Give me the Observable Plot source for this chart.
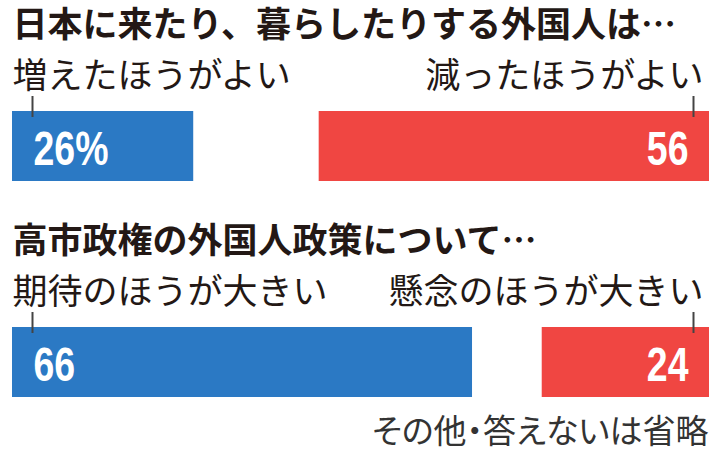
<!DOCTYPE html>
<html><head><meta charset="utf-8">
<script src="https://cdn.jsdelivr.net/npm/d3@7"></script>
<script src="https://cdn.jsdelivr.net/npm/@observablehq/plot@0.6"></script>
<style>
html,body{margin:0;padding:0;background:#fff}
</style>
</head><body><div id="chart"></div>
<script>
const questions = ["日本に来たり、暮らしたりする外国人は…", "高市政権の外国人政策について…"];
const leftLabels = ["増えたほうがよい", "期待のほうが大きい"];
const rightLabels = ["減ったほうがよい", "懸念のほうが大きい"];
const leftValues = [26, 66];
const rightValues = [56, 24];
const leftValueText = ["26%", "66"];
const rightValueText = ["56", "24"];
const note = ["その他・答えないは省略"];

const rows = questions.map((q, i) => ({
  q, left: leftValues[i], right: rightValues[i],
  leftLabel: leftLabels[i], rightLabel: rightLabels[i],
  leftText: leftValueText[i], rightText: rightValueText[i]
}));

const blue = "#2b79c4", red = "#f04642", ink = "#231815";
const jp = "'Noto Sans CJK JP', sans-serif";
const num = "'Liberation Sans', 'DejaVu Sans', sans-serif";

const chart = Plot.plot({
  width: 727, height: 451,
  marginLeft: 12, marginRight: 18, marginTop: 0, marginBottom: 0,
  style: {background: "#fff", fontFamily: jp},
  x: {domain: [0, 100], axis: null},
  y: {domain: questions, range: [111, 397], paddingInner: 0.676, paddingOuter: 0, axis: null},
  marks: [
    Plot.barX(rows, {x1: () => 0, x2: "left", y: "q", fill: blue}),
    Plot.barX(rows, {x1: d => 100 - d.right, x2: () => 100, y: "q", fill: red}),
    Plot.tickX(rows, {x: () => 0, y: "q", dx: 20, insetTop: -15, insetBottom: 64, stroke: "#444", strokeWidth: 2}),
    Plot.tickX(rows, {x: () => 100, y: "q", dx: -16, insetTop: -15, insetBottom: 64, stroke: "#444", strokeWidth: 2}),
    Plot.text(rows, {x: () => 0, y: "q", text: "q", textAnchor: "start", dy: -121, fontSize: 35, fontWeight: "bold", fill: ink, fontFamily: jp}),
    Plot.text(rows, {x: () => 0, y: "q", text: "leftLabel", textAnchor: "start", dy: -70, fontSize: 35, fill: ink, fontFamily: jp}),
    Plot.text(rows, {x: () => 100, y: "q", text: "rightLabel", textAnchor: "end", dx: -6, dy: -70, fontSize: 35, fill: ink, fontFamily: jp}),
    Plot.text(rows, {x: () => 0, y: "q", text: "leftText", textAnchor: "start", dx: 21, dy: 3, fontSize: 48, fontWeight: "bold", fill: "#fff", fontFamily: num}),
    Plot.text(rows, {x: () => 100, y: "q", text: "rightText", textAnchor: "end", dx: -21, dy: 3, fontSize: 48, fontWeight: "bold", fill: "#fff", fontFamily: num}),
    Plot.text(note, {x: () => 100, y: () => questions[1], text: d => d, textAnchor: "end", dx: -1, dy: 70, fontSize: 33, fill: "#333", fontFamily: jp})
  ]
});
// condensed look for the white value labels
d3.select(chart).selectAll('g[fill="#fff"] text').each(function() {
  const t = this.getAttribute("transform") || "";
  this.setAttribute("transform", t + " scale(0.78,1)");
});
// proportional kana spacing for the footnote
d3.select(chart).selectAll('g[fill="#333"] text').style("font-feature-settings", "'palt'");
document.getElementById("chart").appendChild(chart);
</script>
</body></html>
